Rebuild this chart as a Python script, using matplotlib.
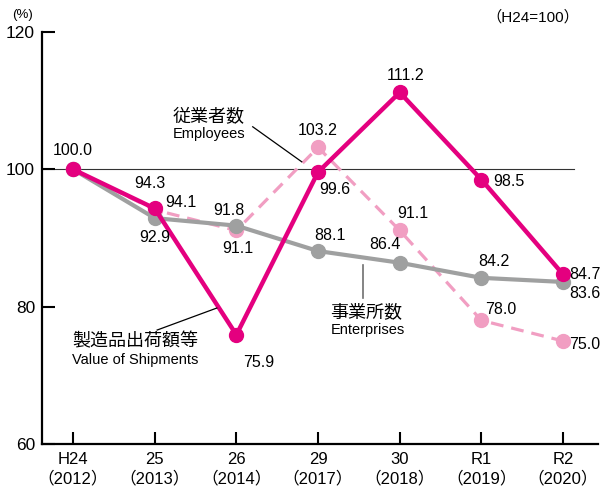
import numpy as np
import matplotlib
matplotlib.use("Agg")
import matplotlib.pyplot as plt

plt.rcParams['font.family'] = ['Liberation Sans', 'Noto Sans CJK JP', 'DejaVu Sans']

# donnees (H24=100)
annees = ["H24\n（2012）", "25\n（2013）", "26\n（2014）", "29\n（2017）",
          "30\n（2018）", "R1\n（2019）", "R2\n（2020）"]
expeditions = [100.0, 94.3, 75.9, 99.6, 111.2, 98.5, 84.7]
employes = [100.0, 94.1, 91.1, 103.2, 91.1, 78.0, 75.0]
etablissements = [100.0, 92.9, 91.8, 88.1, 86.4, 84.2, 83.6]

# decalage des etiquettes (pixels)
off_exp = [(0, 19), (-5, 25), (22, -28), (17, -17), (6, 17), (27, -2), (22, 0)]
off_emp = [(0, 19), (26, 7), (1, -18), (0, 17), (13, 17), (19, 11), (21, -3)]
off_eta = [(0, 19), (0, -19), (-8, 15), (12, 16), (-15, 18), (12, 16), (19, -12)]

MAGENTA = "#E4007F"
ROSE = "#F19EC2"
GRIS = "#9FA0A0"

x = np.arange(len(annees))

fig = plt.figure(figsize=(6, 4.91), dpi=100)
ax = fig.add_axes([0.07, 0.0957, 0.927, 0.8391])

ax.axhline(100, xmax=0.957, color="#333333", lw=0.8, zorder=1)

ax.plot(x, employes, color=ROSE, lw=2.3, ls=(0, (4, 2.5)), marker="o", ms=10, zorder=2)
ax.plot(x, etablissements, color=GRIS, lw=3, marker="o", ms=10, zorder=3)
ax.plot(x, expeditions, color=MAGENTA, lw=3.2, marker="o", ms=10, zorder=4)

def etiquettes(valeurs, decalages, skip_first=False):
    for i, (v, d) in enumerate(zip(valeurs, decalages)):
        if skip_first and i == 0:
            continue
        ha = "center"
        if i == len(valeurs) - 1 and d[0] > 5:
            ha = "left"
            d = (6, d[1])
        ax.annotate(f"{v:.1f}", (x[i], v), xytext=d, textcoords="offset pixels",
                    ha=ha, va="center", fontsize=11.5, zorder=6)

etiquettes(expeditions, off_exp)
etiquettes(employes, off_emp, skip_first=True)
etiquettes(etablissements, off_eta, skip_first=True)

# noms des series
ax.text(1.22, 107.6, "従業者数", fontsize=13, va="center", ha="left")
ax.text(1.22, 105.1, "Employees", fontsize=10.5, va="center", ha="left")
ax.plot([2.20, 2.80], [106.2, 101.1], color="black", lw=0.9, zorder=5)

ax.text(-0.01, 74.85, "製造品出荷額等", fontsize=13, va="center", ha="left")
ax.text(-0.01, 72.2, "Value of Shipments", fontsize=10.5, va="center", ha="left")
ax.plot([1.03, 1.76], [76.6, 79.8], color="black", lw=0.9, zorder=5)

ax.text(3.15, 79.2, "事業所数", fontsize=13, va="center", ha="left")
ax.text(3.15, 76.6, "Enterprises", fontsize=10.5, va="center", ha="left")
ax.plot([3.55, 3.55], [86.1, 81.3], color="#707070", lw=1.2, zorder=5)

ax.set_xlim(-0.38, 6.43)
ax.set_ylim(60, 120)
ax.set_yticks([60, 80, 100, 120])
ax.set_xticks(x)
ax.set_xticklabels(annees, linespacing=1.25)
ax.tick_params(direction="in", length=9, width=1.5, labelsize=12.5, pad=5)
ax.tick_params(axis="x", labelsize=12, pad=6)

for s in ["top", "right"]:
    ax.spines[s].set_visible(False)
for s in ["left", "bottom"]:
    ax.spines[s].set_linewidth(1.6)

fig.text(0.02, 0.969, "(%)", fontsize=9.5, va="center", ha="left")
fig.text(0.965, 0.965, "（H24=100）", fontsize=11, va="center", ha="right")

fig.savefig("out.png", dpi=100)
